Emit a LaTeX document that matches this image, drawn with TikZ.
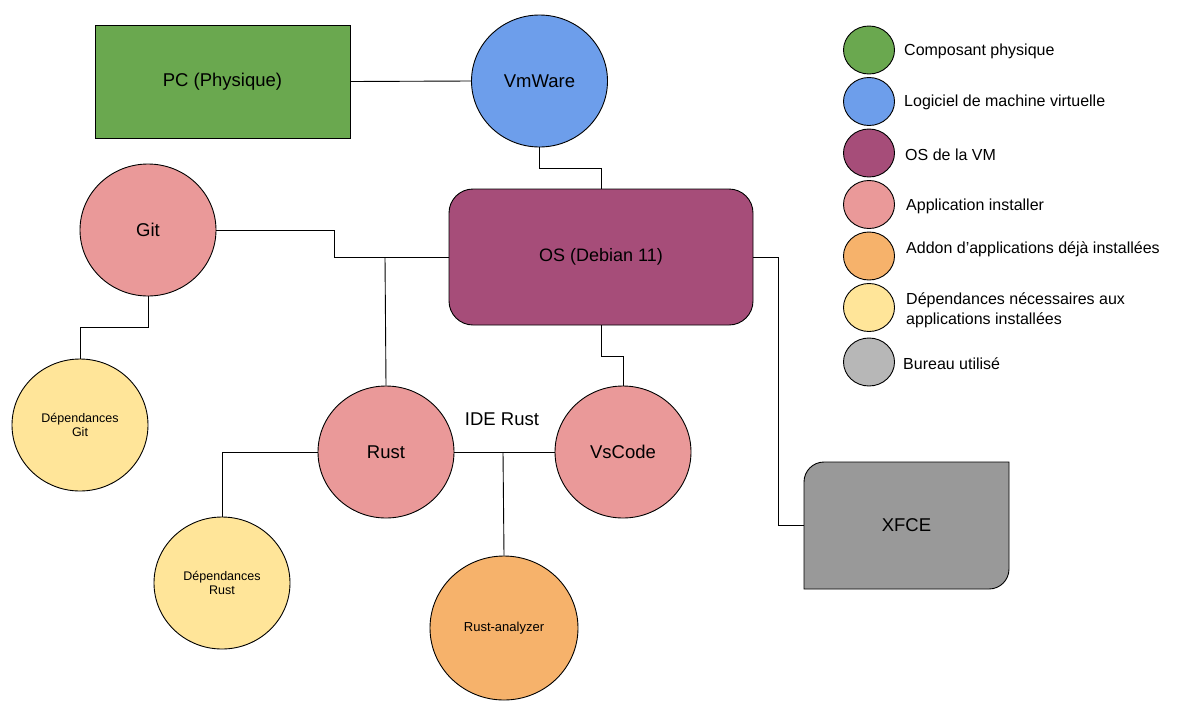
\documentclass[tikz,border=0pt]{standalone}
\usepackage{fontspec}
\setmainfont{Liberation Sans}
\usetikzlibrary{shapes.geometric}

\definecolor{physgreen}{HTML}{6AA84F}
\definecolor{vmblue}{HTML}{6D9EEB}
\definecolor{ospurple}{HTML}{A64D79}
\definecolor{apppink}{HTML}{EA9999}
\definecolor{addonorange}{HTML}{F6B26B}
\definecolor{depyellow}{HTML}{FFE599}
\definecolor{deskgrey}{HTML}{999999}
\definecolor{keygrey}{HTML}{B7B7B7}

\tikzset{
  bubble/.style={ellipse, draw, line width=0.9pt, inner sep=0pt, minimum width=136pt, minimum height=132pt, font=\fontsize{18.5}{22}\selectfont},
  depbubble/.style={bubble, fill=depyellow, align=center, font=\fontsize{12.5}{14}\selectfont},
  keydot/.style={ellipse, draw, line width=0.9pt, inner sep=0pt, minimum width=51pt, minimum height=48pt},
  keytext/.style={anchor=west, align=left, inner sep=0pt, font=\fontsize{16}{19.5}\selectfont},
  link/.style={line width=0.9pt}
}

\begin{document}
\begin{tikzpicture}[x=1pt, y=-1pt]
\useasboundingbox (0,0) rectangle (1193,710);

\node[draw, line width=0.9pt, fill=physgreen, minimum width=255pt, minimum height=113pt, font=\fontsize{18.5}{22}\selectfont](PC) at (222.5,81.5) {PC (Physique)};
\node[bubble, fill=vmblue](VM) at (539.5,81) {VmWare};
\node[draw, line width=0.9pt, fill=ospurple, rounded corners=24pt, minimum width=304pt, minimum height=136pt, font=\fontsize{18}{22}\selectfont](OS) at (601,257) {OS (Debian 11)};
\node[bubble, fill=apppink](Git) at (148,230) {Git};
\node[depbubble](DepGit) at (80,425) {Dépendances\\Git};
\node[bubble, fill=apppink](Rust) at (386,452) {Rust};
\node[bubble, fill=apppink](VsCode) at (623,452) {VsCode};
\node[depbubble](DepRust) at (222,583) {Dépendances\\Rust};
\node[bubble, fill=addonorange, minimum width=148pt, minimum height=144pt, font=\fontsize{13}{15}\selectfont](RA) at (504,628) {Rust-analyzer};
\node[font=\fontsize{18.5}{22}\selectfont](IDE) at (502,419) {IDE Rust};

\draw[link, fill=deskgrey] (804,589) -- (804,482) arc[start angle=180, end angle=90, radius=20pt] -- (1009,462) -- (1009,569) arc[start angle=0, end angle=-90, radius=20pt] -- cycle;
\node[minimum width=205pt, minimum height=127pt, font=\fontsize{18.5}{22}\selectfont](XFCE) at (906.5,525.5) {XFCE};

\coordinate(V1) at (601,168);
\coordinate(G1) at (334,257);
\coordinate(G2) at (80,327);
\coordinate(J1) at (385,257);
\coordinate(V2) at (623,356);
\coordinate(X1) at (778,400);
\coordinate(J2) at (503,452);

\draw[link] (PC.east) -- (VM.west);
\draw[link] (VM.south) |- (V1) -- (OS.north);
\draw[link] (Git.east) -| (G1) -- (OS.west);
\draw[link] (J1) -- (Rust.north);
\draw[link] (Git.south) |- (G2) -- (DepGit.north);
\draw[link] (OS.south) |- (V2) -- (VsCode.north);
\draw[link] (OS.east) -| (X1) |- (XFCE.west);
\draw[link] (Rust.east) -- (VsCode.west);
\draw[link] (J2) -- (RA.north);
\draw[link] (Rust.west) -| (DepRust.north);

\node[keydot, fill=physgreen](K1) at (869,50) {};
\node[keydot, fill=vmblue](K2) at (869,101.5) {};
\node[keydot, fill=ospurple](K3) at (869,153) {};
\node[keydot, fill=apppink](K4) at (869,204.5) {};
\node[keydot, fill=addonorange](K5) at (869,256) {};
\node[keydot, fill=depyellow](K6) at (869,307.5) {};
\node[keydot, fill=keygrey](K7) at (869,362) {};

\node[keytext](T1) at (904,51.5) {Composant physique};
\node[keytext](T2) at (904,102.5) {Logiciel de machine virtuelle};
\node[keytext](T3) at (905,154.5) {OS de la VM};
\node[keytext](T4) at (906,206) {Application installer};
\node[keytext](T5) at (906,249.5) {Addon d’applications déjà installées};
\node[keytext](T6) at (906,310.5) {Dépendances nécessaires aux\\applications installées};
\node[keytext](T7) at (903,363.5) {Bureau utilisé};
\end{tikzpicture}
\end{document}
